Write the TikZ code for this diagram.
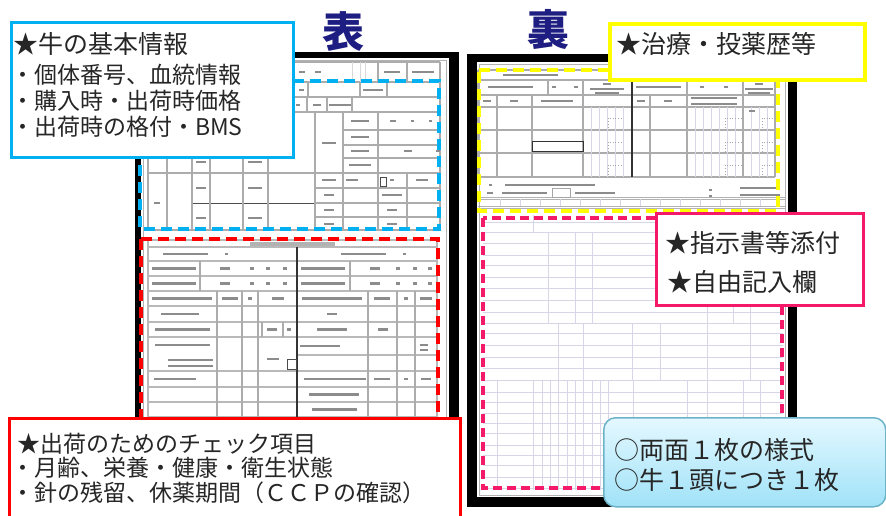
\documentclass[tikz,border=0pt]{standalone}
\usepackage{fontspec}
\newfontfamily\jp{Noto Sans CJK JP}
\definecolor{cblue}{RGB}{0,176,240}
\definecolor{cred}{RGB}{255,0,0}
\definecolor{cyel}{RGB}{255,255,0}
\definecolor{cpink}{RGB}{245,25,105}
\definecolor{navy}{RGB}{30,30,130}
\definecolor{lav}{RGB}{214,214,232}
\definecolor{lbtop}{RGB}{228,248,255}
\definecolor{lbbot}{RGB}{160,226,248}
\definecolor{lbdraw}{RGB}{110,180,200}
\newcommand\fmk[3]{\fill[black!45] ({#1-#3/2},{#2-1.3}) rectangle ({#1+#3/2},{#2+1.3});}
\begin{document}
\begin{tikzpicture}[x=1pt,y=-1pt,
  formline/.style={draw=gray!65,line width=1.1pt},
  heavyline/.style={draw=gray!55,line width=1.7pt},
  lavline/.style={draw=lav,line width=0.8pt},
  txt/.style={anchor=west,inner sep=0pt,text=black!85,font=\jp\fontsize{23}{23}\selectfont},
  bigtxt/.style={txt,font=\jp\fontsize{25}{25}\selectfont},
  headtxt/.style={inner sep=0pt,text=navy,font=\jp\bfseries\fontsize{42}{42}\selectfont},
  panel/.style={anchor=north west,fill=white,inner sep=0pt},
  bluedash/.style={draw=cblue,line width=3.5pt,dash pattern=on 11pt off 6pt},
  reddash/.style={draw=cred,line width=3.5pt,dash pattern=on 11pt off 6pt},
  yeldash/.style={draw=cyel,line width=3.5pt,dash pattern=on 11pt off 6pt},
  pinkdash/.style={draw=cpink,line width=3.5pt,dash pattern=on 9pt off 5pt}]
\useasboundingbox (0,0) rectangle (886,516);
\clip (0,0) rectangle (886,516);
\fill[white] (0,0) rectangle (886,516);

% ================= front form =================
\fill[black] (135,52) rectangle (459,430);
\fill[white] (141,58) rectangle (449,430);
\draw[gray!60,line width=0.8pt] (143.5,60.5) rectangle (446,430);
% top grid
\foreach \yy in {62,82,97,112,173,230} \draw[formline] (148,\yy) -- (440,\yy);
\draw[formline] (148,62) -- (148,230) (440,62) -- (440,230);
\foreach \yy in {130,145,158} \draw[formline] (343,\yy) -- (440,\yy);
\foreach \yy in {188,203,217} \draw[formline] (315,\yy) -- (440,\yy);
\draw[draw=black!70,line width=1pt] (192,203) -- (315,203);
\foreach \xx in {378,407} \draw[formline] (\xx,62) -- (\xx,82);
\foreach \xx in {352,360,365} \draw[draw=gray!30,line width=0.8pt] (\xx,62) -- (\xx,82);
\foreach \xx in {308,360,387} \draw[formline] (\xx,82) -- (\xx,97);
\foreach \xx in {307,327,352} \draw[formline] (\xx,97) -- (\xx,112);
\foreach \xx in {167,192,210,243,268,315,343,378} \draw[formline] (\xx,112) -- (\xx,173);
\foreach \xx in {167,192,210,243,268,315,343,378,407} \draw[formline] (\xx,173) -- (\xx,230);
% top marks
\fmk{302}{72}{6}\fmk{318}{72}{6}\fmk{392}{72}{16}\fmk{423}{72}{22}
\fmk{301}{90}{5}\fmk{373}{90}{20}
\fmk{298}{105}{4}\fmk{317}{105}{8}\fmk{340}{105}{22}
\fmk{329}{143}{14}
\fmk{360}{121}{18}\fmk{360}{137}{18}\fmk{360}{151}{18}\fmk{360}{165}{22}
\fmk{393}{121}{6}\fmk{412}{121}{3}\fmk{430}{121}{3}\fmk{408}{151}{8}\fmk{438}{151}{4}
\fmk{201}{162}{10}\fmk{255}{162}{14}
\fmk{157}{203}{6}\fmk{201}{188}{10}\fmk{201}{218}{10}\fmk{255}{188}{14}\fmk{255}{218}{14}
\fmk{329}{180}{14}\fmk{329}{195}{10}\fmk{329}{210}{10}\fmk{329}{224}{10}
\fmk{352}{180}{12}\fmk{392}{180}{4}\fmk{422}{180}{12}\fmk{392}{195}{20}\fmk{392}{210}{10}\fmk{392}{224}{10}
\draw[black!70,line width=0.8pt] (380,177) rectangle (386,186);
% lower grid
\draw[heavyline] (148,240) -- (437,240);
\foreach \yy in {247,261,276,291,306,322,337,371,387,402,417} \draw[heavyline] (148,\yy) -- (437,\yy);
\draw[heavyline] (297,355) -- (437,355);
\draw[heavyline] (148,240) -- (148,430) (437,240) -- (437,430);
\draw[draw=black!80,line width=1.6pt] (297,247) -- (297,430);
\draw[formline] (200,261) -- (200,291) (350,261) -- (350,291);
\foreach \xx in {217,242,258,368,397,415} \draw[formline] (\xx,291) -- (\xx,430);
\draw[formline] (262,322) -- (262,337) (283,322) -- (283,337);
% lower marks
\fill[black!30] (250,242) rectangle (335,245.5);
\fmk{185}{254}{45}\fmk{226}{254}{3}\fmk{363}{254}{45}\fmk{404}{254}{3}
\foreach \yy in {268.5,283.5}{
  \fmk{174}{\yy}{44}\fmk{225}{\yy}{10}\fmk{252}{\yy}{4}\fmk{268}{\yy}{4}\fmk{285}{\yy}{4}
  \fmk{323}{\yy}{44}\fmk{375}{\yy}{10}\fmk{398}{\yy}{4}\fmk{415}{\yy}{4}\fmk{430}{\yy}{4}}
\fmk{182}{298.5}{60}\fmk{230}{298.5}{16}\fmk{250}{298.5}{4}\fmk{278}{298.5}{12}
\fmk{332}{298.5}{60}\fmk{382}{298.5}{16}\fmk{406}{298.5}{4}\fmk{426}{298.5}{12}
\fmk{180}{314}{38}\fmk{332}{314}{10}
\fmk{182}{329.5}{55}\fmk{272}{329.5}{10}\fmk{289}{329.5}{4}\fmk{332}{329.5}{30}\fmk{383}{329.5}{10}
\fmk{182}{345}{55}\fmk{320}{346}{40}\fmk{424}{345}{8}\fmk{424}{350}{8}
\fmk{190}{360}{45}\fmk{190}{366}{45}\fmk{273}{359}{12}
\draw[black!70,line width=0.8pt] (287,359) rectangle (296,369);
\fmk{175}{379}{42}\fmk{335}{379}{62}\fmk{382}{379}{16}\fmk{406}{379}{4}\fmk{426}{379}{10}
\fmk{334}{394.5}{50}\fmk{334}{409.5}{45}

% ================= back form =================
\fill[black] (467,54) rectangle (797,507);
\fill[white] (477,62) rectangle (788,497);
\draw[gray!60,line width=0.8pt] (479.5,64.5) rectangle (785,495);
% top table
\foreach \yy in {70,80,95,107,130,153,177} \draw[formline] (478,\yy) -- (775,\yy);
\draw[formline] (478,70) -- (478,177) (775,70) -- (775,177);
\foreach \xx in {548,583,687,743} \draw[formline] (\xx,80) -- (\xx,95);
\foreach \xx in {497,532,583,650,687,743} \draw[formline] (\xx,95) -- (\xx,177);
\foreach \xx in {591,599,607,615,623,695,703,711,719,727,735,751,759,767}
  \draw[lavline] (\xx,107) -- (\xx,177);
\draw[draw=black!80,line width=1.8pt] (632,80) -- (632,177);
\foreach \yy in {118,142,165}{
  \draw[gray!70,dotted,line width=0.9pt] (608,\yy+10) -- (608,\yy) -- (622,\yy);
  \draw[gray!70,dotted,line width=0.9pt] (725,\yy+10) -- (725,\yy) -- (742,\yy);
  \draw[gray!70,dotted,line width=0.9pt] (762,\yy+10) -- (762,\yy) -- (774,\yy);}
\draw[black!80,line width=1pt] (532,142) rectangle (583,152);
\foreach \yy in {197,199,206,208} \draw[gray!60,line width=0.8pt] (478,\yy) -- (785,\yy);
\foreach \xx in {500,520,540,560,580,600,620,640,660,680,700,720,740,760}
  \draw[lavline] (\xx,199) -- (\xx,206);
% back top marks
\fmk{530}{75}{55}
\fmk{510}{87}{45}\fmk{554}{87}{4}\fmk{576}{87}{4}\fmk{607}{84}{8}\fmk{607}{89}{34}\fmk{607}{93}{24}
\fmk{658}{87}{45}\fmk{702}{87}{4}\fmk{726}{87}{4}\fmk{759}{84}{8}\fmk{759}{89}{28}\fmk{759}{93}{22}
\fmk{487}{101}{8}\fmk{514}{101}{8}\fmk{557}{101}{32}\fmk{641}{101}{8}\fmk{668}{101}{8}
\fmk{714}{98}{46}\fmk{714}{104}{46}\fmk{752}{111}{6}
\fmk{490}{185}{3}\fmk{550}{185}{90}\fmk{490}{193}{6}\fmk{524}{193}{45}\fmk{595}{193}{40}
\draw[gray!70,line width=0.8pt] (552,188) rectangle (570,197);
\fmk{710}{190}{3}\fmk{760}{188}{40}\fmk{710}{196}{3}\fmk{760}{195}{40}
% back lower grid
\foreach \yy in {222,232,243,255,265,277,288,300,312,323,333,345,357,368,380,392,402,413,423,433,445,455,465,477,488}
  \draw[lavline] (483,\yy) -- (783,\yy);
\draw[lavline] (533,215) -- (533,232);
\foreach \xx in {548,575,592,707,733,750} \draw[lavline] (\xx,232) -- (\xx,323);
\foreach \xx in {558,583,632,660,707,750} \draw[lavline] (\xx,323) -- (\xx,380);
\foreach \xx in {497,533,542,550,558,567,575,583,592,600,608,633,687,707,743,760}
  \draw[lavline] (\xx,380) -- (\xx,490);

% ================= dashed regions =================
\draw[bluedash] (140,81) -- (439,81) -- (439,229) -- (140,229) -- cycle;
\draw[reddash] (141,239) -- (438,239) -- (438,430);
\draw[reddash] (141,239) -- (141,430);
\draw[yeldash] (479,70) -- (778,70) -- (778,211) -- (479,211) -- cycle;
\draw[pinkdash] (483,218) rectangle (782,488);

% ================= headings =================
\node[headtxt] (omote) at (343,31) {表};
\node[headtxt] (ura) at (548,29) {裏};

% ================= callout boxes =================
\node[panel,draw=cblue,line width=3pt,minimum width=282pt,minimum height=135pt] (basic) at (10,21) {};
\node[bigtxt] (basic1) at (13,44) {★牛の基本情報};
\node[txt] (basic2) at (11,75) {・個体番号、血統情報};
\node[txt] (basic3) at (11,101) {・購入時・出荷時価格};
\node[txt] (basic4) at (11,127) {・出荷時の格付・BMS};

\node[panel,draw=cyel,line width=4pt,minimum width=255pt,minimum height=56pt] (treat) at (608,22) {};
\node[bigtxt] (treat1) at (616,44) {★治療・投薬歴等};

\node[panel,draw=cpink,line width=2.5pt,minimum width=207pt,minimum height=92pt] (attach) at (655,212) {};
\node[bigtxt] (attach1) at (665,243) {★指示書等添付};
\node[bigtxt] (attach2) at (667,282) {★自由記入欄};

\node[panel,draw=cred,line width=2.5pt,minimum width=451pt,minimum height=110pt] (check) at (8,417) {};
\node[txt] (check1) at (17,444) {★出荷のためのチェック項目};
\node[txt] (check2) at (11,468) {・月齢、栄養・健康・衛生状態};
\node[txt] (check3) at (11,493) {・針の残留、休薬期間（ＣＣＰの確認）};

\node[anchor=north west,inner sep=0pt,draw=lbdraw,line width=1.5pt,rounded corners=12pt,
  top color=lbtop,bottom color=lbbot,minimum width=282pt,minimum height=89pt] (note) at (603,417) {};
\node[bigtxt] (note1) at (614,450) {○両面１枚の様式};
\node[bigtxt] (note2) at (614,480) {○牛１頭につき１枚};
\end{tikzpicture}
\end{document}
